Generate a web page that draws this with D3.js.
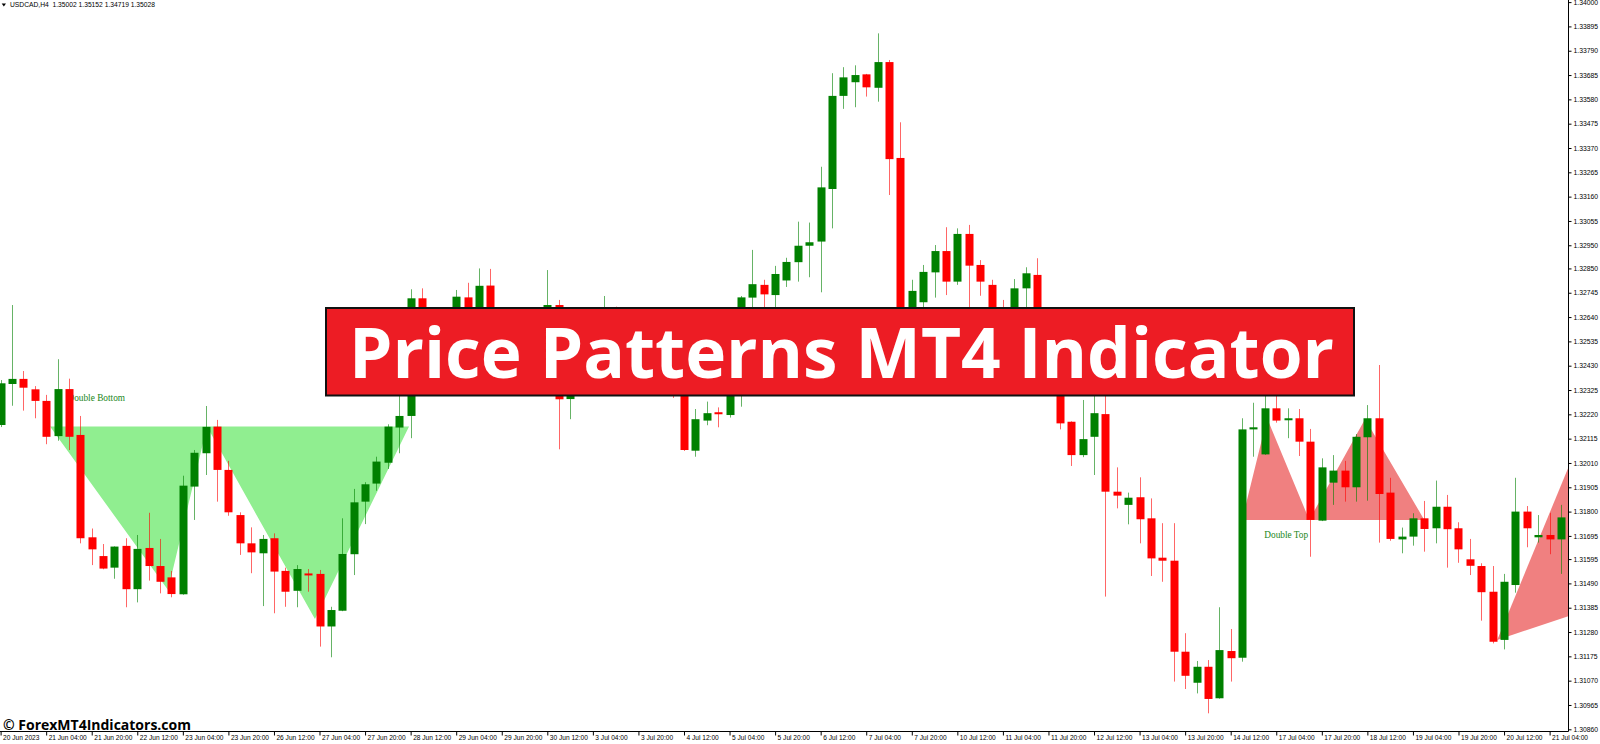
<!DOCTYPE html>
<html><head><meta charset="utf-8">
<script src="https://cdn.jsdelivr.net/npm/d3@7"></script>
<style>html,body{margin:0;padding:0;background:#fff;overflow:hidden}</style>
</head><body>
<svg id="c" width="1600" height="744"></svg>
<script>
// ---------- DATA (USDCAD H4) ----------
const opens=[1.32174,1.32351,1.32373,1.32328,1.32278,1.32126,1.32329,1.32131,1.31689,1.31608,
1.31558,1.31652,1.31465,1.31643,1.31565,1.31516,1.31443,1.31908,1.32052,1.32167,
1.31980,1.31785,1.31663,1.31620,1.31685,1.31544,1.31458,1.31533,1.31531,1.31304,
1.31372,1.31616,1.31843,1.31921,1.32011,1.32163,1.32213,1.32721,1.32541,1.32498,
1.32584,1.32725,1.32563,1.32776,1.32584,1.32519,1.32606,1.32541,1.32584,1.32692,
1.32286,1.32433,1.32403,1.32433,1.32541,1.32498,1.32446,1.32489,1.32427,1.32377,
1.32334,1.32063,1.32193,1.32229,1.32217,1.32368,1.32724,1.32779,1.32735,1.32798,
1.32877,1.32948,1.32966,1.33193,1.33595,1.33654,1.33688,1.33630,1.33741,1.33327,
1.32563,1.32704,1.32833,1.32925,1.32793,1.32999,1.32865,1.32779,1.32584,1.32519,
1.32764,1.32822,1.32455,1.32347,1.32188,1.32044,1.32123,1.32221,1.31886,1.31829,
1.31862,1.31771,1.31601,1.31588,1.31195,1.31061,1.31130,1.30994,1.31198,1.31169,
1.32155,1.32047,1.32246,1.32196,1.32203,1.32102,1.31761,1.31925,1.31977,1.31905,
1.32121,1.32203,1.31882,1.31680,1.31692,1.31771,1.31728,1.31821,1.31728,1.31594,
1.31565,1.31454,1.31246,1.31483,1.31800,1.31689,1.31699,1.31680];
const highs=[1.32368,1.32692,1.32407,1.32342,1.32304,1.32458,1.32374,1.32213,1.31727,1.31660,
1.31650,1.31685,1.31699,1.31795,1.31682,1.31544,1.31955,1.32066,1.32256,1.32196,
1.32019,1.31797,1.31732,1.31699,1.31706,1.31558,1.31569,1.31552,1.31548,1.31389,
1.31771,1.31898,1.31927,1.32037,1.32177,1.32316,1.32760,1.32764,1.32584,1.32653,
1.32757,1.32788,1.32850,1.32848,1.32627,1.32649,1.32645,1.32653,1.32843,1.32714,
1.32489,1.32476,1.32489,1.32731,1.32685,1.32541,1.32519,1.32519,1.32455,1.32412,
1.32368,1.32243,1.32275,1.32250,1.32390,1.32731,1.32930,1.32801,1.32861,1.32896,
1.33052,1.33048,1.33289,1.33693,1.33719,1.33727,1.33690,1.33865,1.33750,1.33481,
1.32801,1.32865,1.32951,1.33028,1.33023,1.33038,1.32886,1.32801,1.32714,1.32804,
1.32855,1.32894,1.32489,1.32377,1.32190,1.32282,1.32347,1.32347,1.31991,1.31882,
1.31948,1.31857,1.31750,1.31750,1.31275,1.31155,1.31159,1.31387,1.31293,1.32203,
1.32270,1.32334,1.32325,1.32246,1.32243,1.32157,1.32030,1.32044,1.32019,1.32135,
1.32260,1.32433,1.31946,1.31731,1.31793,1.31846,1.31934,1.31872,1.31754,1.31682,
1.31577,1.31565,1.31531,1.31946,1.31824,1.31785,1.31795,1.31829];
const lows=[1.32165,1.32257,1.32236,1.32203,1.32091,1.32106,1.32066,1.31663,1.31569,1.31551,
1.31510,1.31387,1.31408,1.31502,1.31447,1.31430,1.31441,1.31764,1.31958,1.31843,
1.31782,1.31613,1.31534,1.31392,1.31361,1.31389,1.31387,1.31454,1.31217,1.31171,
1.31370,1.31526,1.31746,1.31890,1.31984,1.32052,1.32117,1.32476,1.32433,1.32463,
1.32541,1.32519,1.32519,1.32541,1.32476,1.32489,1.32498,1.32505,1.32550,1.32069,
1.32199,1.32368,1.32360,1.32403,1.32455,1.32403,1.32390,1.32386,1.32334,1.32291,
1.32062,1.32037,1.32173,1.32164,1.32206,1.32253,1.32662,1.32671,1.32671,1.32770,
1.32793,1.32812,1.32747,1.33023,1.33539,1.33546,1.33592,1.33570,1.33167,1.32519,
1.32519,1.32649,1.32724,1.32735,1.32779,1.32649,1.32732,1.32541,1.32476,1.32498,
1.32662,1.32412,1.32316,1.32155,1.31997,1.32035,1.31958,1.31433,1.31814,1.31745,
1.31663,1.31522,1.31497,1.31066,1.31034,1.31015,1.30929,1.30992,1.31066,1.31152,
1.32037,1.32045,1.32184,1.32117,1.32040,1.31605,1.31759,1.31829,1.31843,1.31843,
1.31847,1.31666,1.31674,1.31620,1.31653,1.31627,1.31663,1.31558,1.31579,1.31526,
1.31329,1.31231,1.31205,1.31450,1.31646,1.31666,1.31616,1.31531];
const closes=[1.32354,1.32373,1.32335,1.32278,1.32123,1.32329,1.32123,1.31685,1.31637,1.31554,
1.31649,1.31465,1.31639,1.31565,1.31497,1.31444,1.31912,1.32054,1.32166,1.31980,
1.31797,1.31663,1.31624,1.31682,1.31541,1.31454,1.31552,1.31528,1.31304,1.31375,
1.31617,1.31840,1.31918,1.32016,1.32167,1.32213,1.32721,1.32541,1.32498,1.32627,
1.32728,1.32584,1.32775,1.32584,1.32519,1.32606,1.32541,1.32627,1.32692,1.32285,
1.32433,1.32403,1.32446,1.32541,1.32498,1.32446,1.32489,1.32427,1.32377,1.32334,
1.32066,1.32199,1.32225,1.32226,1.32347,1.32725,1.32782,1.32738,1.32826,1.32878,
1.32948,1.32963,1.33200,1.33595,1.33675,1.33685,1.33632,1.33741,1.33322,1.32584,
1.32753,1.32835,1.32925,1.32793,1.32999,1.32862,1.32793,1.32584,1.32519,1.32764,
1.32829,1.32455,1.32347,1.32181,1.32044,1.32113,1.32225,1.31886,1.31869,1.31860,
1.31767,1.31598,1.31588,1.31195,1.31091,1.31130,1.30991,1.31202,1.31167,1.32155,
1.32164,1.32246,1.32193,1.32203,1.32102,1.31764,1.31991,1.31977,1.31905,1.32123,
1.32203,1.31876,1.31682,1.31692,1.31771,1.31725,1.31821,1.31724,1.31637,1.31566,
1.31452,1.31238,1.31497,1.31800,1.31728,1.31699,1.31680,1.31775];

const timeLabels=["20 Jun 2023","21 Jun 04:00","21 Jun 20:00","22 Jun 12:00","23 Jun 04:00","23 Jun 20:00",
"26 Jun 12:00","27 Jun 04:00","27 Jun 20:00","28 Jun 12:00","29 Jun 04:00","29 Jun 20:00","30 Jun 12:00",
"3 Jul 04:00","3 Jul 20:00","4 Jul 12:00","5 Jul 04:00","5 Jul 20:00","6 Jul 12:00","7 Jul 04:00","7 Jul 20:00",
"10 Jul 12:00","11 Jul 04:00","11 Jul 20:00","12 Jul 12:00","13 Jul 04:00","13 Jul 20:00","14 Jul 12:00",
"17 Jul 04:00","17 Jul 20:00","18 Jul 12:00","19 Jul 04:00","19 Jul 20:00","20 Jul 12:00","21 Jul 04:00"];
const timeLabelStep=4;

const priceTicks=[1.34000,1.33895,1.33790,1.33685,1.33580,1.33475,1.33370,1.33265,1.33160,1.33055,
1.32950,1.32850,1.32745,1.32640,1.32535,1.32430,1.32325,1.32220,1.32115,1.32010,1.31905,1.31800,
1.31695,1.31595,1.31490,1.31385,1.31280,1.31175,1.31070,1.30965,1.30860];

const doubleBottomIdx=[4.34,14.7,18.12,27.6,35.86];
const doubleBottomPrice=[1.32167,1.31462,1.32167,1.31336,1.32167];
const doubleTopIdx=[109,111.2,114.9,119.8,125];
const doubleTopPrice=[1.31764,1.32203,1.31764,1.32200,1.31764];
const wedgeIdx=[131.4,137.7,137.7];
const wedgePrice=[1.31246,1.31997,1.31349];

const header="USDCAD,H4  1.35002 1.35152 1.34719 1.35028";
const title="Price Patterns MT4 Indicator";
const watermark="\u00A9 ForexMT4Indicators.com";

// ---------- DRAW ----------
const W=1600,H=744, axisX=1568.5, axisY=731.5;
const x=d3.scaleLinear().domain([0,137]).range([0.6,1561]);
const y=d3.scaleLinear().domain([1.3086,1.34]).range([729.3,2.1]);
const svg=d3.select('#c');
svg.append('rect').attr('width',W).attr('height',H).attr('fill','#fff');
svg.append('defs').append('clipPath').attr('id','plot').append('rect')
  .attr('x',0).attr('y',0).attr('width',axisX).attr('height',axisY);
const g=svg.append('g').attr('clip-path','url(#plot)');

const poly=(idx,pr)=>'M'+idx.map((d,k)=>x(d)+','+y(pr[k])).join('L')+'Z';
g.append('path').attr('d',poly(doubleBottomIdx,doubleBottomPrice)).attr('fill','#90EE90');
g.append('path').attr('d',poly(doubleTopIdx,doubleTopPrice)).attr('fill','#F08080');
g.append('path').attr('d',poly(wedgeIdx,wedgePrice)).attr('fill','#F08080');

const lblStyle=s=>s.attr('font-family','"Liberation Serif","Times New Roman",serif').attr('font-size','9.3px').attr('fill','#1a861a');
g.append('text').attr('x',x(5.87)).attr('y',y(1.32167)-26).text('Double Bottom').call(lblStyle);
g.append('text').attr('x',x(110.95)).attr('y',y(1.31764)+18).text('Double Top').call(lblStyle);

const data=d3.range(opens.length).map(i=>({i,o:opens[i],h:highs[i],l:lows[i],c:closes[i]}));
const col=d=>d.c>=d.o?'#008000':'#FF0000';
const cg=g.append('g').selectAll('g').data(data).join('g');
cg.append('line')
  .attr('x1',d=>Math.round(x(d.i))+0.5).attr('x2',d=>Math.round(x(d.i))+0.5)
  .attr('y1',d=>y(d.h)).attr('y2',d=>y(d.l))
  .attr('stroke',col).attr('stroke-width',1).attr('stroke-opacity',0.6);
cg.append('rect')
  .attr('x',d=>Math.round(x(d.i))-3.5).attr('width',8)
  .attr('y',d=>y(Math.max(d.o,d.c)))
  .attr('height',d=>Math.max(2,Math.abs(y(d.o)-y(d.c))))
  .attr('fill',col);

// axes
const ax=svg.append('g').attr('transform',`translate(${axisX},0)`)
  .call(d3.axisRight(y).tickValues(priceTicks).tickSize(3).tickPadding(2).tickFormat(d=>d.toFixed(5)));
ax.select('.domain').remove();
ax.selectAll('text').attr('font-family','"Liberation Sans",Arial,sans-serif').attr('font-size','6.8px').attr('fill','#000');
ax.selectAll('line').attr('stroke','#000');

const bx=svg.append('g').attr('transform',`translate(0,${axisY})`)
  .call(d3.axisBottom(x).tickValues(timeLabels.map((t,k)=>k*timeLabelStep)).tickSize(4)
    .tickFormat((d,k)=>timeLabels[k]));
bx.select('.domain').remove();
bx.selectAll('text').attr('text-anchor','start').attr('x',2).attr('y',4)
  .attr('font-family','"Liberation Sans",Arial,sans-serif').attr('font-size','6.6px').attr('fill','#000');
bx.selectAll('line').attr('stroke','#000');

svg.append('line').attr('x1',axisX).attr('x2',axisX).attr('y1',0).attr('y2',axisY).attr('stroke','#000');
svg.append('line').attr('x1',0).attr('x2',axisX).attr('y1',axisY).attr('y2',axisY).attr('stroke','#000');

// header
svg.append('path').attr('d','M1.7,3.5L6,3.5L3.85,6.5Z').attr('fill','#000');
svg.append('text').attr('x',10).attr('y',7.3).text(header)
  .attr('font-family','"Liberation Sans",Arial,sans-serif').attr('font-size','6.9px').attr('fill','#000')
  .attr('textLength',145).attr('lengthAdjust','spacingAndGlyphs')
  .attr('xml:space','preserve').style('white-space','pre');

// banner
svg.append('rect').attr('x',326).attr('y',308).attr('width',1028).attr('height',87.5)
  .attr('fill','#ED1C24').attr('stroke','#111').attr('stroke-width',2);
svg.append('text').attr('x',349).attr('y',378).text(title)
  .attr('font-family','"Open Sans",sans-serif').attr('font-weight',700).attr('font-size','70px')
  .attr('fill','#fff').attr('textLength',985).attr('lengthAdjust','spacingAndGlyphs');

// watermark
svg.append('text').attr('x',3).attr('y',729.5).text(watermark)
  .attr('font-family','"Open Sans",sans-serif').attr('font-weight',700).attr('font-size','14px').attr('fill','#000');
</script>
</body></html>
